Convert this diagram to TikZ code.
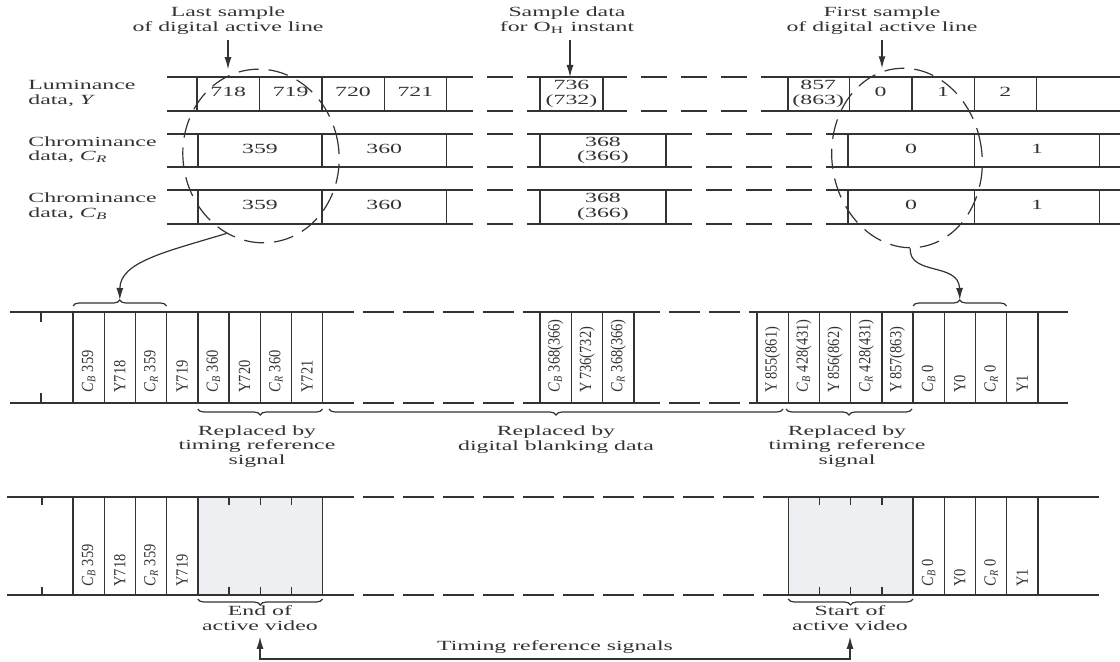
\documentclass[tikz,border=0pt]{standalone}
\usepackage{fontspec}
\setmainfont{Liberation Serif}
\usepackage{graphicx}
\usetikzlibrary{arrows.meta,positioning,shapes.geometric,decorations.pathreplacing}
\definecolor{Ink}{HTML}{333333}
\definecolor{Shade}{HTML}{EEEFF2}
% wide horizontal labels, narrow vertical ones
\newcommand{\wc}[1]{\scalebox{1.7}[1]{\begin{tabular}{@{}c@{}}#1\end{tabular}}}
\newcommand{\wl}[1]{\scalebox{1.7}[1]{\begin{tabular}{@{}l@{}}#1\end{tabular}}}
\newcommand{\vt}[1]{\scalebox{0.85}[1]{#1}}
\newcommand{\chb}{\textit{C}\textsubscript{\textit{B}}}
\newcommand{\chr}{\textit{C}\textsubscript{\textit{R}}}

\begin{document}
\begin{tikzpicture}[x=0.5pt,y=-0.5pt,color=Ink,font=\fontsize{7}{7.2}\selectfont,
    t/.style={inner sep=0pt},
    v/.style={inner sep=0pt,rotate=90,anchor=west,font=\fontsize{8.5}{9}\selectfont},
    row/.style={line width=0.7pt},
    gapT/.style={line width=0.7pt,dash pattern=on 13pt off 7pt,dash phase=13pt},
    gapB/.style={line width=0.7pt,dash pattern=on 15.5pt off 4.5pt,dash phase=15.5pt},
    ell/.style={draw,ellipse,rotate=8,dash pattern=on 10pt off 5pt,line width=0.6pt,inner sep=0pt},
    br/.style={decorate,decoration={brace,amplitude=3pt},line width=0.6pt},
    a/.style={-{Latex[length=6pt,width=3.5pt]},line width=0.6pt},
    a2/.style={{Latex[length=6pt,width=3.5pt]}-{Latex[length=6pt,width=3.5pt]},line width=0.6pt}]
    \useasboundingbox (0,0) rectangle (1120,662);

    % headings
    \node[t] (lastL) at (228,21) {\wc{Last sample\\of digital active line}};
    \node[t] (ohL) at (567,21) {\wc{Sample data\\for O\textsubscript{H} instant}};
    \node[t] (firstL) at (882,21) {\wc{First sample\\of digital active line}};

    % sample rows
    \node[t,anchor=west] (lum) at (28,94) {\wl{Luminance\\data, \textit{Y}}};
    \node[t,anchor=west] (crl) at (28,150.5) {\wl{Chrominance\\data, \chr}};
    \node[t,anchor=west] (cbl) at (28,207) {\wl{Chrominance\\data, \chb}};

    \draw[row] (167,77) -- (473,77) (527,77) -- (627,77) (761,77) -- (1120,77)
      (167,111) -- (473,111) (527,111) -- (627,111) (761,111) -- (1120,111);
    \draw[gapT] (473,77) -- (527,77) (627,77) -- (761,77) (473,111) -- (527,111) (627,111) -- (761,111);
    \foreach \x in {197,259.4,321.8,384.2,446.6,540,603,788,849.4,911.8,974.2,1036.6}
      \draw[row] (\x,77) -- (\x,111);
    \foreach \yt/\yb in {134/167,190/224}{
      \draw[row] (167,\yt) -- (473,\yt) (527,\yt) -- (692,\yt) (826,\yt) -- (1120,\yt)
        (167,\yb) -- (473,\yb) (527,\yb) -- (692,\yb) (826,\yb) -- (1120,\yb);
      \draw[gapT] (473,\yt) -- (527,\yt) (692,\yt) -- (826,\yt) (473,\yb) -- (527,\yb) (692,\yb) -- (826,\yb);
      \foreach \x in {198,321.8,446.6,540,666,848,974.2,1099.5}
        \draw[row] (\x,\yt) -- (\x,\yb);
    }
    \foreach \x/\n in {228.2/718,290.6/719,353/720,415.4/721,880.6/0,943/1,1005.4/2}
      \node[t] (y\n) at (\x,94) {\wc{\n}};
    \node[t] (y736) at (571.5,94) {\wc{736\\(732)}};
    \node[t] (y857) at (818.2,94) {\wc{857\\(863)}};
    \foreach \x/\n in {260/359,384.2/360,911/0,1037/1}{
      \node[t] (r\n) at (\x,150.5) {\wc{\n}};
      \node[t] (b\n) at (\x,207) {\wc{\n}};
    }
    \node[t] (r368) at (603,150.5) {\wc{368\\(366)}};
    \node[t] (b368) at (603,207) {\wc{368\\(366)}};

    \node[ell,minimum width=78pt,minimum height=87pt] (ellL) at (261,156) {};
    \node[ell,minimum width=75pt,minimum height=90pt] (ellR) at (907,158) {};
    \coordinate (oh) at (570,77);
    \draw[a,shorten <=2pt] (lastL) -- (lastL |- ellL.north);
    \draw[a,shorten <=2pt] (ohL.south -| oh) -- (oh);
    \draw[a,shorten <=2pt] (firstL) -- (firstL |- ellR.north);

    % multiplexed stream
    \draw[row] (10,312) -- (354,312) (523,312) -- (660,312) (749,312) -- (1068,312)
      (10,403) -- (354,403) (523,403) -- (660,403) (749,403) -- (1068,403);
    \draw[gapB] (354,312) -- (523,312) (660,312) -- (749,312) (354,403) -- (523,403) (660,403) -- (749,403);
    \draw[row] (41,312) -- (41,322) (41,393) -- (41,403);
    \foreach \x in {73,104.2,135.4,166.6,197.8,229,260.2,291.4,322.6,540,571.3,602.6,633.9,
        757,788.2,819.4,850.6,881.8,913,944.2,975.4,1006.6,1037.8}
      \draw[row] (\x,312) -- (\x,403);
    \foreach \x/\s [count=\i] in {88.6/\chb\ 359,119.8/Y718,151/\chr\ 359,182.2/Y719,
        213.4/\chb\ 360,244.6/Y720,275.8/\chr\ 360,307/Y721,
        555.6/\chb\ 368(366),587/Y\,736(732),618.3/\chr\ 368(366),
        772.6/Y\,855(861),803.8/\chb\ 428(431),835/Y\,856(862),866.2/\chr\ 428(431),
        897.4/Y\,857(863),928.6/\chb\ 0,959.8/Y0,991/\chr\ 0,1022.2/Y1}
      \node[v] (m\i) at (\x,393) {\vt{\s}};

    \coordinate (bL) at (119.8,300);
    \coordinate (bR) at (959.8,300);
    \draw[br] (73,306) -- (166.6,306);
    \draw[br] (913,306) -- (1006.6,306);
    \draw[a] (ellL.238) .. controls (165,252) and (120,262) .. (bL);
    \draw[a] (ellR.264) .. controls (909,276) and (959,262) .. (bR);

    \draw[br] (322.6,409) -- (197.8,409);
    \draw[br] (783,409) -- (329,409);
    \draw[br] (912,409) -- (786,409);
    \node[t] (rep1) at (257,447) {\wc{Replaced by\\timing reference\\signal}};
    \node[t] (rep2) at (556,440) {\wc{Replaced by\\digital blanking data}};
    \node[t] (rep3) at (847,447) {\wc{Replaced by\\timing reference\\signal}};

    % stream with timing reference signals
    \fill[Shade] (197.8,497) rectangle (322.6,595);
    \fill[Shade] (788.2,497) rectangle (913,595);
    \draw[row] (7,497) -- (354,497) (763,497) -- (1099,497) (7,595) -- (354,595) (763,595) -- (1099,595);
    \draw[gapB] (354,497) -- (763,497) (354,595) -- (763,595);
    \foreach \x in {73,104.2,135.4,166.6,197.8,322.6,788.2,913,944.2,975.4,1006.6,1037.8}
      \draw[row] (\x,497) -- (\x,595);
    \foreach \x in {42,229,260.2,291.4,819.4,850.6,881.8}
      \draw[row] (\x,497) -- (\x,505) (\x,587) -- (\x,595);
    \foreach \x/\s [count=\i] in {88.6/\chb\ 359,119.8/Y718,151/\chr\ 359,182.2/Y719,
        928.6/\chb\ 0,959.8/Y0,991/\chr\ 0,1022.2/Y1}
      \node[v] (e\i) at (\x,587) {\vt{\s}};

    \draw[br] (322.6,599) -- (197.8,599);
    \draw[br] (913,599) -- (788.2,599);
    \node[t] (eav) at (260,620) {\wc{End of\\active video}};
    \node[t] (sav) at (850,620) {\wc{Start of\\active video}};
    \coordinate (tl) at (555,659);
    \node[t,above=2pt of tl] (trs) {\wc{Timing reference signals}};
    \draw[a2,shorten <=1pt,shorten >=1pt] (eav) |- (tl) -| (sav);
  \end{tikzpicture}
\end{document}
